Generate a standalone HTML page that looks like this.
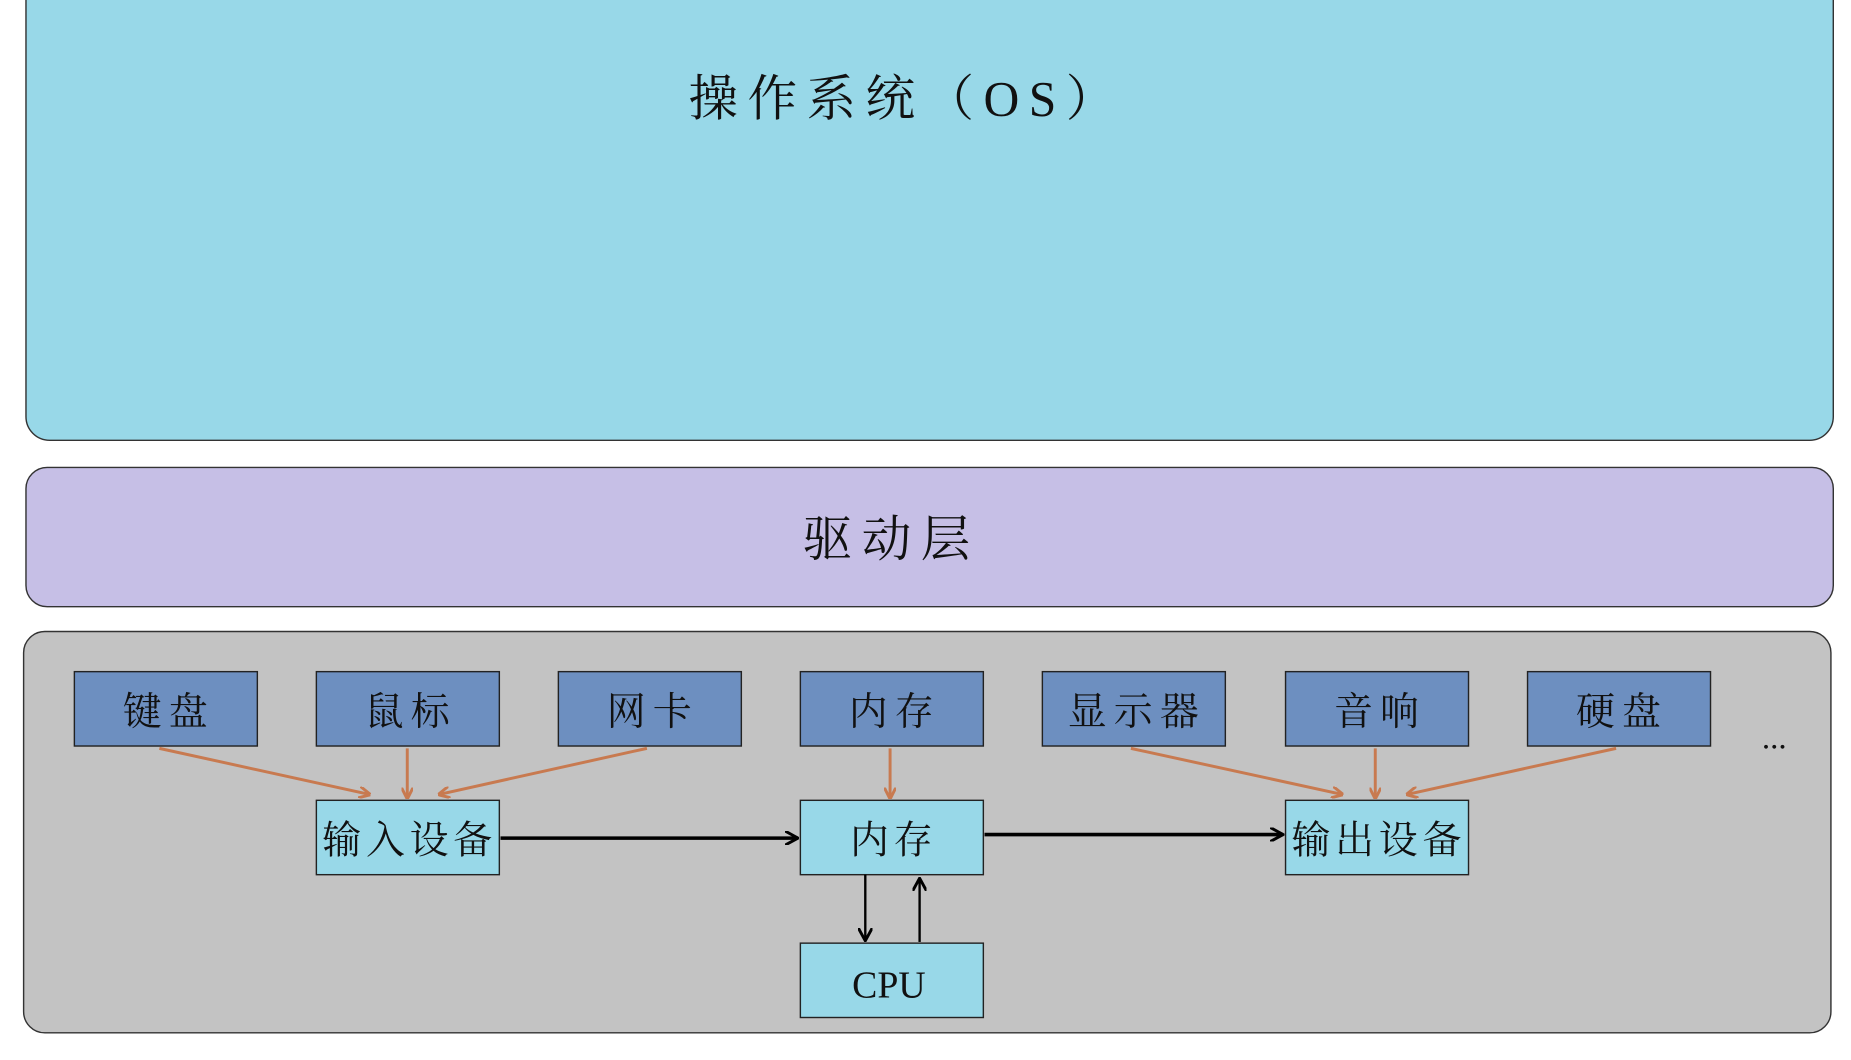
<!DOCTYPE html>
<html><head><meta charset="utf-8"><style>
html,body{margin:0;padding:0;background:#fff;}
svg{display:block;}
text{font-family:"Liberation Serif","Noto Serif CJK SC",serif;fill:#111;}
</style></head><body>
<svg width="1851" height="1060" viewBox="0 0 1568 898" preserveAspectRatio="none" xmlns="http://www.w3.org/2000/svg">
<defs>
<marker id="ao" markerWidth="10" markerHeight="10" refX="9" refY="5" orient="auto" markerUnits="userSpaceOnUse" viewBox="0 0 10 10"><path d="M0,0 L10,5 L0,10" fill="none" stroke="#c87a50" stroke-width="2.5"/></marker>
<marker id="ab" markerWidth="12" markerHeight="12" refX="11" refY="6" orient="auto" markerUnits="userSpaceOnUse" viewBox="0 0 12 12"><path d="M0,0 L11,6 L0,12" fill="none" stroke="#000" stroke-width="2.5"/></marker>
</defs>
<rect x="22" y="-20" width="1531" height="393" rx="20" fill="#98d8e8" stroke="#333" stroke-width="1.2"/>
<text x="768" y="98" font-size="42" text-anchor="middle" letter-spacing="8">操作系统（OS）</text>
<rect x="22" y="396" width="1531" height="118" rx="18" fill="#c6bfe6" stroke="#333" stroke-width="1.2"/>
<text x="755" y="471" font-size="42" text-anchor="middle" letter-spacing="8">驱动层</text>
<rect x="20" y="535" width="1531" height="340" rx="18" fill="#c3c3c3" stroke="#333" stroke-width="1.2"/>
<g fill="#6d8fc0" stroke="#222" stroke-width="1.2">
<rect x="63" y="569" width="155" height="63"/><rect x="268" y="569" width="155" height="63"/><rect x="473" y="569" width="155" height="63"/><rect x="678" y="569" width="155" height="63"/><rect x="883" y="569" width="155" height="63"/><rect x="1089" y="569" width="155" height="63"/><rect x="1294" y="569" width="155" height="63"/>
</g>
<g font-size="33" text-anchor="middle" letter-spacing="6">
<text x="143" y="614">键盘</text><text x="348" y="614">鼠标</text><text x="553" y="614">网卡</text><text x="758" y="614">内存</text><text x="963" y="614">显示器</text><text x="1169" y="614">音响</text><text x="1374" y="614">硬盘</text>
</g>
<text x="1503" y="634" font-size="28" text-anchor="middle">...</text>
<g fill="#98d8e8" stroke="#222" stroke-width="1.2">
<rect x="268" y="678" width="155" height="63"/><rect x="678" y="678" width="155" height="63"/><rect x="1089" y="678" width="155" height="63"/><rect x="678" y="799" width="155" height="63"/>
</g>
<g font-size="33" text-anchor="middle" letter-spacing="4">
<text x="347" y="723">输入设备</text><text x="757" y="723">内存</text><text x="1168" y="723">输出设备</text>
</g>
<text x="753" y="845" font-size="32" text-anchor="middle">CPU</text>
<g stroke="#c87a50" stroke-width="2.5" fill="none" marker-end="url(#ao)">
<line x1="135" y1="634" x2="313" y2="673"/><line x1="345" y1="634" x2="345" y2="676"/><line x1="548" y1="634" x2="372" y2="673"/><line x1="754" y1="634" x2="754" y2="676"/><line x1="958" y1="634" x2="1137" y2="673"/><line x1="1165" y1="634" x2="1165" y2="676"/><line x1="1369" y1="634" x2="1192" y2="673"/>
</g>
<g stroke="#000" stroke-width="3" fill="none" marker-end="url(#ab)">
<line x1="424" y1="710" x2="676" y2="710"/><line x1="834" y1="707" x2="1087" y2="707"/>
</g>
<g stroke="#000" stroke-width="2" fill="none" marker-end="url(#ab)">
<line x1="733" y1="741" x2="733" y2="797"/><line x1="779" y1="798" x2="779" y2="744"/>
</g>
</svg>
</body></html>
